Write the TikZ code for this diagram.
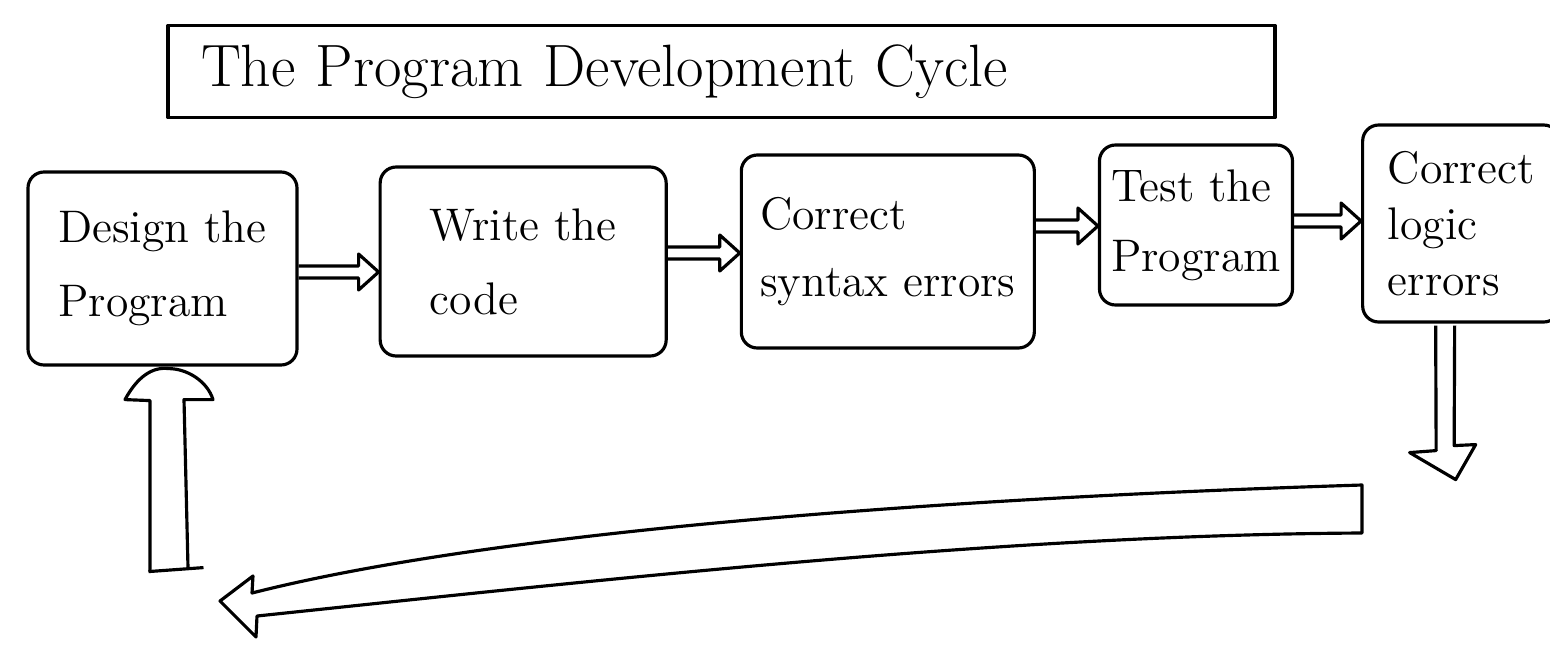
\documentclass[tikz,border=0pt]{standalone}
\usepackage{tikz}
\usetikzlibrary{positioning, calc}

\begin{document}
\begin{tikzpicture}[line width=0.9pt, line join=round,
    box/.style={rectangle, draw, rounded corners=0.16cm, align=left, inner sep=0pt, font=\fontsize{13}{21}\selectfont},
    banner/.style={rectangle, draw, align=left, text width=10.41cm, inner xsep=0.33cm, minimum height=0.92cm, font=\fontsize{17}{20}\selectfont},
    hollow/.style={draw, line width=0.9pt, line join=round}]

    \useasboundingbox (0,0) rectangle (15.5,-6.52);

    \node [banner] (title) at (7.215,-0.715) {The Program Development Cycle};

    \node [box, minimum width=2.69cm, minimum height=1.93cm] (design) at (1.625,-2.685) {Design the\\Program};
    \node [box, minimum width=2.86cm, minimum height=1.89cm, right=0.80cm of design, yshift=0.07cm] (code) {Write the\\code};
    \node [box, minimum width=2.93cm, minimum height=1.93cm, right=0.72cm of code, yshift=0.10cm, font=\fontsize{13}{19}\selectfont] (syntax) {Correct\\syntax errors};
    \node [box, minimum width=1.93cm, minimum height=1.60cm, right=0.62cm of syntax, yshift=0.265cm, font=\fontsize{13}{20}\selectfont] (test) {Test the\\Program};
    \node [box, minimum width=1.97cm, minimum height=1.97cm, right=0.67cm of test, yshift=0.015cm, font=\fontsize{13}{16}\selectfont] (logic) {Correct\\logic\\errors};

    % hollow arrows between the steps
    \foreach \a/\b/\y in {design/code/-2.72, code/syntax/-2.53, syntax/test/-2.26, test/logic/-2.21}
        \draw [hollow] ($(\a.east |- 0,\y)+(0,0.06)$) -- ($(\b.west |- 0,\y)+(-0.2,0.06)$) -- ++(0,0.12)
            -- (\b.west |- 0,\y) -- ++(-0.2,-0.18) -- ++(0,0.12) -- ($(\a.east |- 0,\y)+(0,-0.06)$);

    % down from the last step
    \begin{scope}[shift={(logic.south)}]
        \draw [hollow] (-0.255,-0.02) -- (-0.25,-1.27) -- (-0.515,-1.29) -- (-0.055,-1.56)
            -- (0.145,-1.21) -- (-0.07,-1.22) -- (-0.065,-0.02);
    \end{scope}

    % back to the start
    \draw [hollow] (13.62,-4.85) .. controls (9.5,-4.98) and (5.0,-5.30) .. (2.52,-5.93)
        -- (2.53,-5.76) -- (2.20,-6.01) -- (2.56,-6.37) -- (2.57,-6.16)
        .. controls (6.0,-5.80) and (10.0,-5.35) .. (13.62,-5.33)
        -- cycle;

    \begin{scope}[shift={(design.south)}]
        \draw [hollow] (-0.14,-2.05) -- (0.41,-2.01);
        \draw [hollow] (-0.125,-2.05) -- (-0.125,-0.34) -- (-0.375,-0.33)
            .. controls (-0.25,-0.10) and (-0.10,0.0) .. (0.06,-0.02)
            .. controls (0.25,-0.02) and (0.45,-0.15) .. (0.505,-0.33)
            -- (0.215,-0.33) -- (0.255,-2.01);
    \end{scope}
\end{tikzpicture}
\end{document}
